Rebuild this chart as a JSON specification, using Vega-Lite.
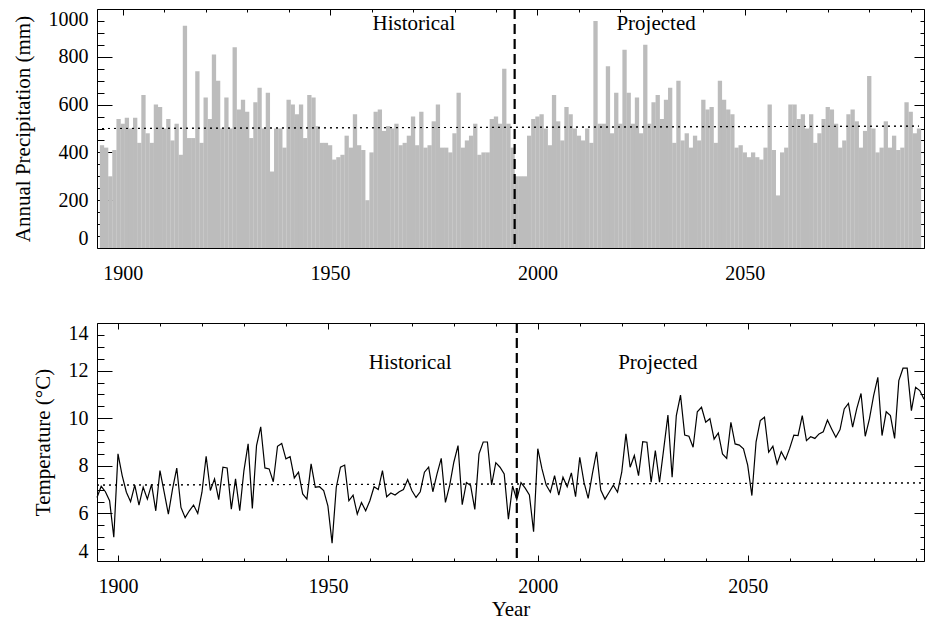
{
  "$schema": "https://vega.github.io/schema/vega-lite/v6.json",
  "padding": {"left": 12, "top": 7, "right": 0, "bottom": 0},
  "spacing": 38,
  "background": "white",
  "config": {
    "view": {"stroke": null},
    "font": "Liberation Serif",
    "axis": {"grid": false, "domainColor": "black", "tickColor": "black", "labelColor": "black", "titleColor": "black", "labelFont": "Liberation Serif", "titleFont": "Liberation Serif", "labelFontSize": 20, "titleFontSize": 21, "titleFontWeight": "normal", "domainWidth": 1, "tickWidth": 1}
  },
  "datasets": {
    "precip": [
      {"year":1895,"precip":430},{"year":1896,"precip":420},{"year":1897,"precip":300},{"year":1898,"precip":410},{"year":1899,"precip":540},
      {"year":1900,"precip":520},{"year":1901,"precip":545},{"year":1902,"precip":500},{"year":1903,"precip":545},{"year":1904,"precip":440},
      {"year":1905,"precip":640},{"year":1906,"precip":480},{"year":1907,"precip":440},{"year":1908,"precip":600},{"year":1909,"precip":590},
      {"year":1910,"precip":500},{"year":1911,"precip":540},{"year":1912,"precip":450},{"year":1913,"precip":520},{"year":1914,"precip":390},
      {"year":1915,"precip":930},{"year":1916,"precip":460},{"year":1917,"precip":460},{"year":1918,"precip":740},{"year":1919,"precip":440},
      {"year":1920,"precip":630},{"year":1921,"precip":540},{"year":1922,"precip":810},{"year":1923,"precip":700},{"year":1924,"precip":500},
      {"year":1925,"precip":630},{"year":1926,"precip":500},{"year":1927,"precip":840},{"year":1928,"precip":580},{"year":1929,"precip":620},
      {"year":1930,"precip":570},{"year":1931,"precip":460},{"year":1932,"precip":610},{"year":1933,"precip":670},{"year":1934,"precip":500},
      {"year":1935,"precip":650},{"year":1936,"precip":320},{"year":1937,"precip":500},{"year":1938,"precip":500},{"year":1939,"precip":420},
      {"year":1940,"precip":620},{"year":1941,"precip":600},{"year":1942,"precip":560},{"year":1943,"precip":600},{"year":1944,"precip":460},
      {"year":1945,"precip":640},{"year":1946,"precip":630},{"year":1947,"precip":510},{"year":1948,"precip":440},{"year":1949,"precip":440},
      {"year":1950,"precip":430},{"year":1951,"precip":370},{"year":1952,"precip":380},{"year":1953,"precip":390},{"year":1954,"precip":470},
      {"year":1955,"precip":420},{"year":1956,"precip":560},{"year":1957,"precip":430},{"year":1958,"precip":410},{"year":1959,"precip":200},
      {"year":1960,"precip":400},{"year":1961,"precip":570},{"year":1962,"precip":580},{"year":1963,"precip":490},{"year":1964,"precip":510},
      {"year":1965,"precip":500},{"year":1966,"precip":520},{"year":1967,"precip":430},{"year":1968,"precip":440},{"year":1969,"precip":470},
      {"year":1970,"precip":550},{"year":1971,"precip":430},{"year":1972,"precip":570},{"year":1973,"precip":420},{"year":1974,"precip":430},
      {"year":1975,"precip":530},{"year":1976,"precip":600},{"year":1977,"precip":420},{"year":1978,"precip":420},{"year":1979,"precip":400},
      {"year":1980,"precip":480},{"year":1981,"precip":650},{"year":1982,"precip":420},{"year":1983,"precip":450},{"year":1984,"precip":470},
      {"year":1985,"precip":520},{"year":1986,"precip":390},{"year":1987,"precip":400},{"year":1988,"precip":400},{"year":1989,"precip":540},
      {"year":1990,"precip":550},{"year":1991,"precip":520},{"year":1992,"precip":750},{"year":1993,"precip":520},{"year":1994,"precip":420},
      {"year":1995,"precip":300},{"year":1996,"precip":300},{"year":1997,"precip":300},{"year":1998,"precip":470},{"year":1999,"precip":540},
      {"year":2000,"precip":550},{"year":2001,"precip":560},{"year":2002,"precip":500},{"year":2003,"precip":430},{"year":2004,"precip":640},
      {"year":2005,"precip":530},{"year":2006,"precip":450},{"year":2007,"precip":590},{"year":2008,"precip":560},{"year":2009,"precip":500},
      {"year":2010,"precip":470},{"year":2011,"precip":450},{"year":2012,"precip":500},{"year":2013,"precip":440},{"year":2014,"precip":950},
      {"year":2015,"precip":520},{"year":2016,"precip":520},{"year":2017,"precip":760},{"year":2018,"precip":480},{"year":2019,"precip":650},
      {"year":2020,"precip":520},{"year":2021,"precip":830},{"year":2022,"precip":650},{"year":2023,"precip":520},{"year":2024,"precip":630},
      {"year":2025,"precip":480},{"year":2026,"precip":850},{"year":2027,"precip":520},{"year":2028,"precip":610},{"year":2029,"precip":640},
      {"year":2030,"precip":540},{"year":2031,"precip":620},{"year":2032,"precip":670},{"year":2033,"precip":440},{"year":2034,"precip":700},
      {"year":2035,"precip":450},{"year":2036,"precip":480},{"year":2037,"precip":420},{"year":2038,"precip":470},{"year":2039,"precip":450},
      {"year":2040,"precip":620},{"year":2041,"precip":580},{"year":2042,"precip":590},{"year":2043,"precip":440},{"year":2044,"precip":700},
      {"year":2045,"precip":620},{"year":2046,"precip":580},{"year":2047,"precip":560},{"year":2048,"precip":420},{"year":2049,"precip":430},
      {"year":2050,"precip":400},{"year":2051,"precip":380},{"year":2052,"precip":400},{"year":2053,"precip":380},{"year":2054,"precip":370},
      {"year":2055,"precip":420},{"year":2056,"precip":600},{"year":2057,"precip":410},{"year":2058,"precip":220},{"year":2059,"precip":400},
      {"year":2060,"precip":420},{"year":2061,"precip":600},{"year":2062,"precip":600},{"year":2063,"precip":540},{"year":2064,"precip":560},
      {"year":2065,"precip":500},{"year":2066,"precip":560},{"year":2067,"precip":440},{"year":2068,"precip":480},{"year":2069,"precip":540},
      {"year":2070,"precip":590},{"year":2071,"precip":580},{"year":2072,"precip":520},{"year":2073,"precip":420},{"year":2074,"precip":450},
      {"year":2075,"precip":560},{"year":2076,"precip":580},{"year":2077,"precip":530},{"year":2078,"precip":420},{"year":2079,"precip":490},
      {"year":2080,"precip":720},{"year":2081,"precip":500},{"year":2082,"precip":400},{"year":2083,"precip":420},{"year":2084,"precip":530},
      {"year":2085,"precip":420},{"year":2086,"precip":470},{"year":2087,"precip":410},{"year":2088,"precip":420},{"year":2089,"precip":610},
      {"year":2090,"precip":570},{"year":2091,"precip":480},{"year":2092,"precip":500}
    ],
    "temp": [
      {"year":1895,"temp":6.67},{"year":1896,"temp":7.14},{"year":1897,"temp":6.91},{"year":1898,"temp":6.53},{"year":1899,"temp":5.0},
      {"year":1900,"temp":8.5},{"year":1901,"temp":7.59},{"year":1902,"temp":6.89},{"year":1903,"temp":6.49},{"year":1904,"temp":7.19},
      {"year":1905,"temp":6.35},{"year":1906,"temp":7.1},{"year":1907,"temp":6.6},{"year":1908,"temp":7.22},{"year":1909,"temp":6.11},
      {"year":1910,"temp":7.8},{"year":1911,"temp":6.89},{"year":1912,"temp":5.97},{"year":1913,"temp":7.03},{"year":1914,"temp":7.9},
      {"year":1915,"temp":6.25},{"year":1916,"temp":5.82},{"year":1917,"temp":6.11},{"year":1918,"temp":6.35},{"year":1919,"temp":6.0},
      {"year":1920,"temp":6.89},{"year":1921,"temp":8.4},{"year":1922,"temp":6.96},{"year":1923,"temp":7.45},{"year":1924,"temp":6.58},
      {"year":1925,"temp":7.94},{"year":1926,"temp":7.91},{"year":1927,"temp":6.18},{"year":1928,"temp":7.45},{"year":1929,"temp":6.11},
      {"year":1930,"temp":7.8},{"year":1931,"temp":8.92},{"year":1932,"temp":6.21},{"year":1933,"temp":8.85},{"year":1934,"temp":9.64},
      {"year":1935,"temp":7.91},{"year":1936,"temp":7.87},{"year":1937,"temp":7.33},{"year":1938,"temp":8.82},{"year":1939,"temp":8.94},
      {"year":1940,"temp":8.29},{"year":1941,"temp":8.38},{"year":1942,"temp":7.49},{"year":1943,"temp":7.73},{"year":1944,"temp":6.82},
      {"year":1945,"temp":6.6},{"year":1946,"temp":8.08},{"year":1947,"temp":7.1},{"year":1948,"temp":7.12},{"year":1949,"temp":6.96},
      {"year":1950,"temp":6.32},{"year":1951,"temp":4.75},{"year":1952,"temp":7.1},{"year":1953,"temp":7.94},{"year":1954,"temp":8.03},
      {"year":1955,"temp":6.53},{"year":1956,"temp":6.77},{"year":1957,"temp":5.97},{"year":1958,"temp":6.46},{"year":1959,"temp":6.11},
      {"year":1960,"temp":6.53},{"year":1961,"temp":7.12},{"year":1962,"temp":7.0},{"year":1963,"temp":7.8},{"year":1964,"temp":6.7},
      {"year":1965,"temp":6.86},{"year":1966,"temp":6.77},{"year":1967,"temp":6.91},{"year":1968,"temp":7.0},{"year":1969,"temp":7.42},
      {"year":1970,"temp":6.96},{"year":1971,"temp":6.67},{"year":1972,"temp":6.91},{"year":1973,"temp":7.73},{"year":1974,"temp":7.94},
      {"year":1975,"temp":6.91},{"year":1976,"temp":7.66},{"year":1977,"temp":8.31},{"year":1978,"temp":6.46},{"year":1979,"temp":7.17},
      {"year":1980,"temp":8.15},{"year":1981,"temp":8.85},{"year":1982,"temp":6.37},{"year":1983,"temp":7.3},{"year":1984,"temp":7.17},
      {"year":1985,"temp":6.17},{"year":1986,"temp":8.5},{"year":1987,"temp":9.0},{"year":1988,"temp":9.0},{"year":1989,"temp":7.2},
      {"year":1990,"temp":8.13},{"year":1991,"temp":7.94},{"year":1992,"temp":7.66},{"year":1993,"temp":5.76},{"year":1994,"temp":7.15},
      {"year":1995,"temp":6.57},{"year":1996,"temp":7.29},{"year":1997,"temp":7.06},{"year":1998,"temp":6.78},{"year":1999,"temp":5.23},
      {"year":2000,"temp":8.72},{"year":2001,"temp":7.87},{"year":2002,"temp":7.19},{"year":2003,"temp":6.89},{"year":2004,"temp":7.59},
      {"year":2005,"temp":6.77},{"year":2006,"temp":7.52},{"year":2007,"temp":7.12},{"year":2008,"temp":7.7},{"year":2009,"temp":6.7},
      {"year":2010,"temp":8.36},{"year":2011,"temp":7.31},{"year":2012,"temp":6.63},{"year":2013,"temp":7.66},{"year":2014,"temp":8.59},
      {"year":2015,"temp":6.98},{"year":2016,"temp":6.6},{"year":2017,"temp":6.89},{"year":2018,"temp":7.19},{"year":2019,"temp":6.89},
      {"year":2020,"temp":7.73},{"year":2021,"temp":9.34},{"year":2022,"temp":7.94},{"year":2023,"temp":8.43},{"year":2024,"temp":7.59},
      {"year":2025,"temp":9.01},{"year":2026,"temp":8.99},{"year":2027,"temp":7.31},{"year":2028,"temp":8.64},{"year":2029,"temp":7.31},
      {"year":2030,"temp":8.71},{"year":2031,"temp":10.13},{"year":2032,"temp":7.52},{"year":2033,"temp":10.11},{"year":2034,"temp":10.97},
      {"year":2035,"temp":9.29},{"year":2036,"temp":9.24},{"year":2037,"temp":8.78},{"year":2038,"temp":10.27},{"year":2039,"temp":10.46},
      {"year":2040,"temp":9.83},{"year":2041,"temp":9.98},{"year":2042,"temp":9.12},{"year":2043,"temp":9.38},{"year":2044,"temp":8.5},
      {"year":2045,"temp":8.31},{"year":2046,"temp":9.83},{"year":2047,"temp":8.92},{"year":2048,"temp":8.87},{"year":2049,"temp":8.71},
      {"year":2050,"temp":8.03},{"year":2051,"temp":6.75},{"year":2052,"temp":9.01},{"year":2053,"temp":9.9},{"year":2054,"temp":10.04},
      {"year":2055,"temp":8.57},{"year":2056,"temp":8.82},{"year":2057,"temp":8.08},{"year":2058,"temp":8.59},{"year":2059,"temp":8.26},
      {"year":2060,"temp":8.73},{"year":2061,"temp":9.29},{"year":2062,"temp":9.27},{"year":2063,"temp":10.11},{"year":2064,"temp":9.06},
      {"year":2065,"temp":9.22},{"year":2066,"temp":9.15},{"year":2067,"temp":9.34},{"year":2068,"temp":9.43},{"year":2069,"temp":9.92},
      {"year":2070,"temp":9.55},{"year":2071,"temp":9.2},{"year":2072,"temp":9.52},{"year":2073,"temp":10.39},{"year":2074,"temp":10.62},
      {"year":2075,"temp":9.62},{"year":2076,"temp":10.41},{"year":2077,"temp":11.04},{"year":2078,"temp":9.24},{"year":2079,"temp":9.97},
      {"year":2080,"temp":10.95},{"year":2081,"temp":11.72},{"year":2082,"temp":9.27},{"year":2083,"temp":10.27},{"year":2084,"temp":10.11},
      {"year":2085,"temp":9.15},{"year":2086,"temp":11.58},{"year":2087,"temp":12.1},{"year":2088,"temp":12.1},{"year":2089,"temp":10.32},
      {"year":2090,"temp":11.3},{"year":2091,"temp":11.16},{"year":2092,"temp":10.8}
    ],
    "precipRef": [{"year":1895,"precip":500},{"year":2092,"precip":510}],
    "tempRef": [{"year":1895,"temp":7.19},{"year":2092,"temp":7.28}],
    "precipLabels": [{"year":1970.2,"precip":937,"label":"Historical"},{"year":2028.6,"precip":937,"label":"Projected"}],
    "tempLabels": [{"year":1969.6,"temp":12.32,"label":"Historical"},{"year":2028.6,"temp":12.32,"label":"Projected"}],
    "precipSplit": [{"year":1994.5}],
    "tempSplit": [{"year":1995}]
  },
  "vconcat": [
    {
      "width": 827,
      "height": 239,
      "resolve": {"axis": {"x": "independent", "y": "independent"}},
      "layer": [
        {
          "data": {"name": "precip"},
          "mark": {"type": "bar", "orient": "vertical", "width": 4.3, "color": "#bcbcbc", "clip": true},
          "encoding": {
            "x": {"field": "year", "type": "quantitative", "scale": {"domain": [1895, 2092], "nice": false, "zero": false},
              "axis": {"orient": "bottom", "title": null, "values": [1900, 1950, 2000, 2050], "format": "d", "tickSize": -6, "labelPadding": 21, "labelFlush": false}},
            "y": {"field": "precip", "type": "quantitative", "stack": null, "scale": {"domain": [0, 1000], "nice": false},
              "axis": {"orient": "left", "title": "Annual Precipitation (mm)", "values": [0, 200, 400, 600, 800, 1000], "format": "d", "tickSize": -15, "labelPadding": 24, "labelFlush": true, "labelFlushOffset": 0, "titlePadding": 15}}
          }
        },
        {
          "data": {"name": "precipRef"},
          "mark": {"type": "line", "color": "black", "strokeWidth": 1, "strokeDash": [2, 4]},
          "encoding": {
            "x": {"field": "year", "type": "quantitative", "scale": {"domain": [1895, 2092], "nice": false, "zero": false},
              "axis": {"orient": "bottom", "title": null, "labels": false, "domain": false, "values": [1910,1920,1930,1940,1960,1970,1980,1990,2010,2020,2030,2040,2060,2070,2080,2090], "tickSize": -3}},
            "y": {"field": "precip", "type": "quantitative", "scale": {"domain": [0, 1000], "nice": false},
              "axis": {"orient": "left", "title": null, "labels": false, "domain": false, "values": [50,100,150,250,300,350,450,500,550,650,700,750,850,900,950], "tickSize": -7}}
          }
        },
        {
          "data": {"name": "precipRef"},
          "mark": {"type": "line", "color": "black", "strokeWidth": 1, "strokeDash": [2, 4]},
          "encoding": {
            "x": {"field": "year", "type": "quantitative", "scale": {"domain": [1895, 2092], "nice": false, "zero": false},
              "axis": {"orient": "top", "title": null, "labels": false, "values": [1900, 1950, 2000, 2050], "tickSize": -6}},
            "y": {"field": "precip", "type": "quantitative", "scale": {"domain": [0, 1000], "nice": false},
              "axis": {"orient": "right", "title": null, "labels": false, "values": [0, 200, 400, 600, 800, 1000], "tickSize": -10}}
          }
        },
        {
          "data": {"name": "precipLabels"},
          "mark": {"type": "text", "font": "Liberation Serif", "fontSize": 21, "color": "black", "baseline": "middle", "align": "center"},
          "encoding": {
            "x": {"field": "year", "type": "quantitative", "scale": {"domain": [1895, 2092], "nice": false, "zero": false},
              "axis": {"orient": "top", "title": null, "labels": false, "domain": false, "values": [1910,1920,1930,1940,1960,1970,1980,1990,2010,2020,2030,2040,2060,2070,2080,2090], "tickSize": -3}},
            "y": {"field": "precip", "type": "quantitative", "scale": {"domain": [0, 1000], "nice": false},
              "axis": {"orient": "right", "title": null, "labels": false, "domain": false, "values": [50,100,150,250,300,350,450,500,550,650,700,750,850,900,950], "tickSize": -4}},
            "text": {"field": "label"}
          }
        },
        {
          "data": {"name": "precipSplit"},
          "mark": {"type": "rule", "color": "black", "strokeWidth": 2.2, "strokeDash": [10, 5]},
          "encoding": {
            "x": {"field": "year", "type": "quantitative", "scale": {"domain": [1895, 2092], "nice": false, "zero": false}, "axis": null}
          }
        }
      ]
    },
    {
      "width": 827,
      "height": 238,
      "resolve": {"axis": {"x": "independent", "y": "independent"}},
      "layer": [
        {
          "data": {"name": "temp"},
          "mark": {"type": "line", "color": "black", "strokeWidth": 1.2},
          "encoding": {
            "x": {"field": "year", "type": "quantitative", "scale": {"domain": [1895, 2092], "nice": false, "zero": false},
              "axis": {"orient": "bottom", "title": "Year", "titlePadding": 2, "values": [1900, 1950, 2000, 2050], "format": "d", "tickSize": -6, "labelPadding": 21, "labelFlush": false}},
            "y": {"field": "temp", "type": "quantitative", "scale": {"domain": [4, 14], "nice": false, "zero": false},
              "axis": {"orient": "left", "title": "Temperature (°C)", "values": [4, 6, 8, 10, 12, 14], "format": "d", "tickSize": -15, "labelPadding": 24, "labelFlush": true, "labelFlushOffset": 0, "titlePadding": 15}}
          }
        },
        {
          "data": {"name": "tempRef"},
          "mark": {"type": "line", "color": "black", "strokeWidth": 1, "strokeDash": [2, 4]},
          "encoding": {
            "x": {"field": "year", "type": "quantitative", "scale": {"domain": [1895, 2092], "nice": false, "zero": false},
              "axis": {"orient": "bottom", "title": null, "labels": false, "domain": false, "values": [1910,1920,1930,1940,1960,1970,1980,1990,2010,2020,2030,2040,2060,2070,2080,2090], "tickSize": -3}},
            "y": {"field": "temp", "type": "quantitative", "scale": {"domain": [4, 14], "nice": false, "zero": false},
              "axis": {"orient": "left", "title": null, "labels": false, "domain": false, "values": [4.5,5,5.5,6.5,7,7.5,8.5,9,9.5,10.5,11,11.5,12.5,13,13.5], "tickSize": -7}}
          }
        },
        {
          "data": {"name": "tempRef"},
          "mark": {"type": "line", "color": "black", "strokeWidth": 1, "strokeDash": [2, 4]},
          "encoding": {
            "x": {"field": "year", "type": "quantitative", "scale": {"domain": [1895, 2092], "nice": false, "zero": false},
              "axis": {"orient": "top", "title": null, "labels": false, "values": [1900, 1950, 2000, 2050], "tickSize": -6}},
            "y": {"field": "temp", "type": "quantitative", "scale": {"domain": [4, 14], "nice": false, "zero": false},
              "axis": {"orient": "right", "title": null, "labels": false, "values": [4, 6, 8, 10, 12, 14], "tickSize": -10}}
          }
        },
        {
          "data": {"name": "tempLabels"},
          "mark": {"type": "text", "font": "Liberation Serif", "fontSize": 21, "color": "black", "baseline": "middle", "align": "center"},
          "encoding": {
            "x": {"field": "year", "type": "quantitative", "scale": {"domain": [1895, 2092], "nice": false, "zero": false},
              "axis": {"orient": "top", "title": null, "labels": false, "domain": false, "values": [1910,1920,1930,1940,1960,1970,1980,1990,2010,2020,2030,2040,2060,2070,2080,2090], "tickSize": -3}},
            "y": {"field": "temp", "type": "quantitative", "scale": {"domain": [4, 14], "nice": false, "zero": false},
              "axis": {"orient": "right", "title": null, "labels": false, "domain": false, "values": [4.5,5,5.5,6.5,7,7.5,8.5,9,9.5,10.5,11,11.5,12.5,13,13.5], "tickSize": -4}},
            "text": {"field": "label"}
          }
        },
        {
          "data": {"name": "tempSplit"},
          "mark": {"type": "rule", "color": "black", "strokeWidth": 2.2, "strokeDash": [10, 5]},
          "encoding": {
            "x": {"field": "year", "type": "quantitative", "scale": {"domain": [1895, 2092], "nice": false, "zero": false}, "axis": null}
          }
        }
      ]
    }
  ]
}
